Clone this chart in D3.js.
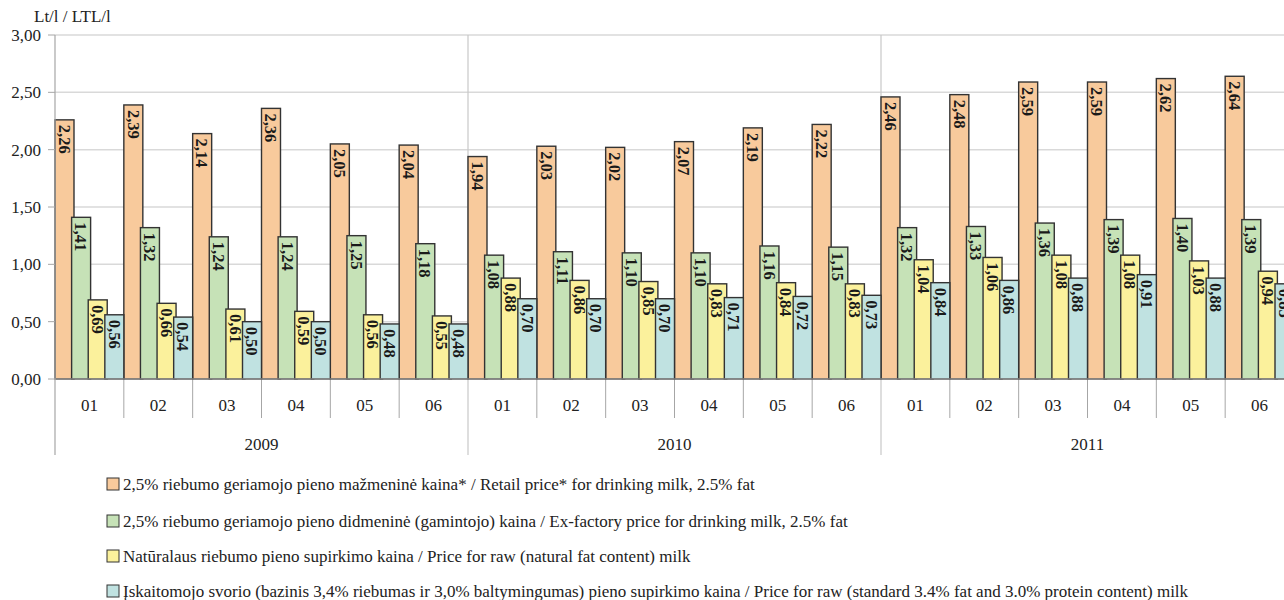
<!DOCTYPE html>
<html>
<head>
<meta charset="utf-8">
<script src="https://cdn.jsdelivr.net/npm/d3@7"></script>
<style>
  body { margin: 0; background: #fff; }
  svg text { font-family: "Liberation Serif", Tinos, "DejaVu Serif", serif; }
</style>
</head>
<body>
<svg id="chart" width="1284" height="600"></svg>
<script>
"use strict";

var years = ["2009", "2010", "2011"];
var months = ["01", "02", "03", "04", "05", "06"];
var yTicks = [0, 0.5, 1, 1.5, 2, 2.5, 3];

var retail    = [2.26, 2.39, 2.14, 2.36, 2.05, 2.04, 1.94, 2.03, 2.02, 2.07, 2.19, 2.22, 2.46, 2.48, 2.59, 2.59, 2.62, 2.64];
var exFactory = [1.41, 1.32, 1.24, 1.24, 1.25, 1.18, 1.08, 1.11, 1.10, 1.10, 1.16, 1.15, 1.32, 1.33, 1.36, 1.39, 1.40, 1.39];
var rawNatural  = [0.69, 0.66, 0.61, 0.59, 0.56, 0.55, 0.88, 0.86, 0.85, 0.83, 0.84, 0.83, 1.04, 1.06, 1.08, 1.08, 1.03, 0.94];
var rawStandard = [0.56, 0.54, 0.50, 0.50, 0.48, 0.48, 0.70, 0.70, 0.70, 0.71, 0.72, 0.73, 0.84, 0.86, 0.88, 0.91, 0.88, 0.83];

var series = [
  {name: "2,5% riebumo geriamojo pieno mažmeninė kaina* / Retail price* for drinking milk, 2.5% fat", values: retail, color: "#f8ca9c"},
  {name: "2,5% riebumo geriamojo pieno didmeninė (gamintojo) kaina / Ex-factory price for drinking milk, 2.5% fat", values: exFactory, color: "#c6e2b7"},
  {name: "Natūralaus riebumo pieno supirkimo kaina / Price for raw (natural fat content) milk", values: rawNatural, color: "#fbf19c"},
  {name: "Įskaitomojo svorio (bazinis 3,4% riebumas ir 3,0% baltymingumas) pieno supirkimo kaina / Price for raw (standard 3.4% fat and 3.0% protein content) milk", values: rawStandard, color: "#c0e2e1"}
];

// category keys: year-month
var cats = [];
years.forEach(function(yr) {
  months.forEach(function(m) { cats.push(yr + "-" + m); });
});

var svg = d3.select("#chart");
var plotLeft = 55, plotRight = 1294, plotTop = 35, plotBottom = 379;

var x = d3.scaleBand().domain(cats).range([plotLeft, plotRight]).padding(0);
var yearX = d3.scaleBand().domain(years).range([plotLeft, plotRight]).padding(0);
var y = d3.scaleLinear().domain([0, 3]).range([plotBottom, plotTop]);

var fmt = function(v) { return d3.format(".2f")(v).replace(".", ","); };

// horizontal gridlines
svg.append("g")
  .selectAll("line")
  .data(yTicks.slice(1))
  .enter()
  .append("line")
  .attr("x1", plotLeft).attr("x2", plotRight)
  .attr("y1", function(d) { return y(d); })
  .attr("y2", function(d) { return y(d); })
  .attr("stroke", "#d9d9d9")
  .attr("stroke-width", 1.5);

// year separators (run through plot and axis area)
svg.append("g")
  .selectAll("line")
  .data(years.slice(1))
  .enter()
  .append("line")
  .attr("x1", function(d) { return yearX(d); })
  .attr("x2", function(d) { return yearX(d); })
  .attr("y1", plotTop).attr("y2", 455)
  .attr("stroke", "#c8c8c8")
  .attr("stroke-width", 1.2);

// month separators in axis area
svg.append("g")
  .selectAll("line")
  .data(cats.filter(function(c, i) { return i % 6 !== 0; }))
  .enter()
  .append("line")
  .attr("x1", function(d) { return x(d); })
  .attr("x2", function(d) { return x(d); })
  .attr("y1", plotBottom).attr("y2", 418)
  .attr("stroke", "#a6a6a6")
  .attr("stroke-width", 1);

// bars
var bw = x.bandwidth();
var barW = bw * 0.276;
var step = (bw - barW) / 3;

series.forEach(function(s, si) {
  var g = svg.append("g").attr("class", "series" + si);
  g.selectAll("rect")
    .data(s.values)
    .enter()
    .append("rect")
    .attr("x", function(v, i) { return x(cats[i]) + si * step; })
    .attr("y", function(v) { return y(v); })
    .attr("width", barW)
    .attr("height", function(v) { return y(0) - y(v); })
    .attr("fill", s.color)
    .attr("stroke", "#333")
    .attr("stroke-width", 1.4);

  g.selectAll("text")
    .data(s.values)
    .enter()
    .append("text")
    .attr("transform", function(v, i) {
      var cx = x(cats[i]) + si * step + barW / 2;
      return "translate(" + cx + "," + (y(v) + 5) + ") rotate(90)";
    })
    .attr("dy", "0.35em")
    .attr("text-anchor", "start")
    .style("font-size", "16.5px")
    .style("font-weight", "bold")
    .attr("fill", "#1a1a1a")
    .text(function(v) { return fmt(v); });
});

// x axis line
svg.append("line")
  .attr("x1", plotLeft).attr("x2", plotRight)
  .attr("y1", plotBottom).attr("y2", plotBottom)
  .attr("stroke", "#a6a6a6")
  .attr("stroke-width", 1.2);

// y axis
svg.append("line")
  .attr("x1", plotLeft).attr("x2", plotLeft)
  .attr("y1", plotTop).attr("y2", 455)
  .attr("stroke", "#a6a6a6")
  .attr("stroke-width", 1.2);

var yAxis = svg.append("g");
yAxis.selectAll("line")
  .data(yTicks)
  .enter()
  .append("line")
  .attr("x1", plotLeft - 7).attr("x2", plotLeft)
  .attr("y1", function(d) { return y(d); })
  .attr("y2", function(d) { return y(d); })
  .attr("stroke", "#a6a6a6");
yAxis.selectAll("text")
  .data(yTicks)
  .enter()
  .append("text")
  .attr("x", 41)
  .attr("y", function(d) { return y(d); })
  .attr("dy", "0.35em")
  .attr("text-anchor", "end")
  .style("font-size", "17px")
  .attr("fill", "#222")
  .text(function(d) { return fmt(d); });

svg.append("text")
  .attr("x", 34).attr("y", 22)
  .style("font-size", "17px")
  .attr("fill", "#222")
  .text("Lt/l / LTL/l");

// month labels
svg.append("g")
  .selectAll("text")
  .data(cats)
  .enter()
  .append("text")
  .attr("x", function(d) { return x(d) + bw / 2; })
  .attr("y", 411)
  .attr("text-anchor", "middle")
  .style("font-size", "17px")
  .attr("fill", "#222")
  .text(function(d) { return d.split("-")[1]; });

// year labels
svg.append("g")
  .selectAll("text")
  .data(years)
  .enter()
  .append("text")
  .attr("x", function(d) { return yearX(d) + yearX.bandwidth() / 2; })
  .attr("y", 450)
  .attr("text-anchor", "middle")
  .style("font-size", "17px")
  .attr("fill", "#222")
  .text(function(d) { return d; });

// legend
var legend = svg.append("g").attr("class", "legend");
var legendY = [484, 521, 556, 591];
legend.selectAll("rect")
  .data(series)
  .enter()
  .append("rect")
  .attr("x", 107)
  .attr("y", function(s, i) { return legendY[i] - 6; })
  .attr("width", 12)
  .attr("height", 12)
  .attr("fill", function(s) { return s.color; })
  .attr("stroke", "#333")
  .attr("stroke-width", 1);
legend.selectAll("text")
  .data(series)
  .enter()
  .append("text")
  .attr("x", 123)
  .attr("y", function(s, i) { return legendY[i]; })
  .attr("dy", "0.35em")
  .style("font-size", "17px")
  .attr("fill", "#222")
  .text(function(s) { return s.name; });
</script>
</body>
</html>
